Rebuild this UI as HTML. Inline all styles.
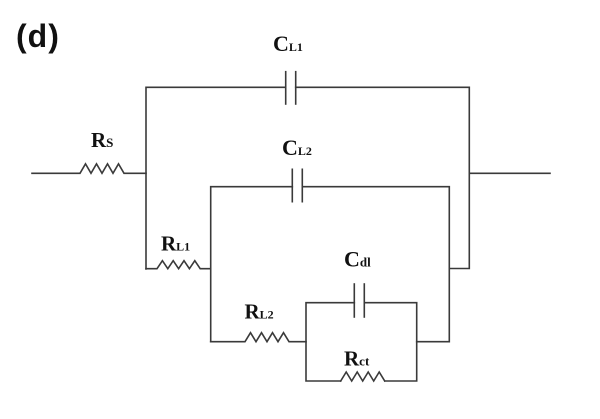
<!DOCTYPE html>
<html>
<head>
<meta charset="utf-8">
<style>
  html, body { margin: 0; padding: 0; background: #ffffff; }
  body { width: 600px; height: 419px; overflow: hidden; }
  svg { display: block; }
  .w { stroke: #3a3a3a; stroke-width: 1.6; fill: none; stroke-linecap: square; stroke-linejoin: miter; }
  .lbl { font-family: "Liberation Serif", serif; font-weight: bold; fill: #111; }
  .dl { font-family: "Liberation Sans", sans-serif; font-weight: bold; fill: #111; }
</style>
</head>
<body>
<svg width="600" height="419" viewBox="0 0 600 419" xmlns="http://www.w3.org/2000/svg">
  <!-- (d) label -->
  <text class="dl" x="16" y="47" font-size="32" letter-spacing="1">(d)</text>

  <!-- Input wire + Rs -->
  <path class="w" d="M32 173.3 H80 l5.5 -9.5 l5.5 9.5 l5.5 -9.5 l5.5 9.5 l5.5 -9.5 l5.5 9.5 l5.5 -9.5 l5.5 9.5 H146"/>
  <!-- Output wire -->
  <path class="w" d="M469.3 173.3 H550"/>

  <!-- Outer loop: left vertical, top wire w/ CL1, right vertical -->
  <path class="w" d="M146 269 V87.3 H285.7"/>
  <path class="w" d="M285.7 71.7 V104"/>
  <path class="w" d="M295.7 71.7 V104"/>
  <path class="w" d="M295.7 87.3 H469.3 V268.5 H449.3"/>

  <!-- RL1 -->
  <path class="w" d="M146 268.7 H157 l5.4 -8 l5.4 8 l5.4 -8 l5.4 8 l5.4 -8 l5.4 8 l5.4 -8 l5.4 8 H210.7"/>

  <!-- Middle loop with CL2 -->
  <path class="w" d="M210.7 341.7 V186.7 H292.3"/>
  <path class="w" d="M292.3 169.3 V201.7"/>
  <path class="w" d="M302.3 169.3 V201.7"/>
  <path class="w" d="M302.3 186.7 H449.3 V341.7 H416.7"/>

  <!-- RL2 -->
  <path class="w" d="M210.7 341.7 H245 l5.5 -9 l5.5 9 l5.5 -9 l5.5 9 l5.5 -9 l5.5 9 l5.5 -9 l5.5 9 H306"/>

  <!-- Inner box: Cdl top, Rct bottom -->
  <path class="w" d="M354.3 302.7 H306 V381 H340.7"/>
  <path class="w" d="M354.3 284 V317"/>
  <path class="w" d="M364.3 284 V317"/>
  <path class="w" d="M364.3 302.7 H416.7 V381 H385"/>
  <!-- Rct zigzag -->
  <path class="w" d="M340.7 381 l5.5 -9 l5.5 9 l5.5 -9 l5.5 9 l5.5 -9 l5.5 9 l5.5 -9 l5.5 9"/>

  <!-- Labels -->
  <text class="lbl" x="273" y="51" font-size="22">C<tspan font-size="12">L1</tspan></text>
  <text class="lbl" x="91" y="147" font-size="21">R<tspan font-size="13">S</tspan></text>
  <text class="lbl" x="282" y="155" font-size="22">C<tspan font-size="12">L2</tspan></text>
  <text class="lbl" x="161" y="250.5" font-size="21">R<tspan font-size="12">L1</tspan></text>
  <text class="lbl" x="344" y="266.5" font-size="22">C<tspan font-size="13">dl</tspan></text>
  <text class="lbl" x="244.5" y="318.5" font-size="21">R<tspan font-size="12">L2</tspan></text>
  <text class="lbl" x="344" y="365.5" font-size="21">R<tspan font-size="13">ct</tspan></text>
</svg>
</body>
</html>
